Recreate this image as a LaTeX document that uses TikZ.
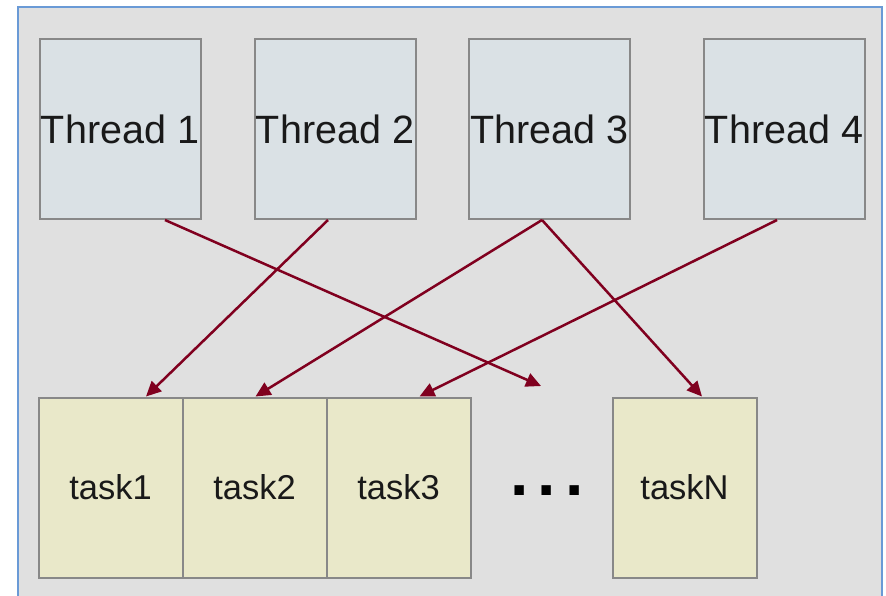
\documentclass[tikz,border=0pt]{standalone}
\usepackage{fontspec}
\setmainfont{Liberation Sans}
\usetikzlibrary{arrows.meta}
\definecolor{bgc}{HTML}{E0E0E0}
\definecolor{framec}{HTML}{6A9AD6}
\definecolor{thrc}{HTML}{DAE1E5}
\definecolor{taskc}{HTML}{E9E8C9}
\definecolor{boxline}{HTML}{888888}
\definecolor{arrc}{HTML}{80001F}
\begin{document}
\begin{tikzpicture}[x=1pt,y=-1pt,
  thr/.style={draw=boxline,fill=thrc,line width=2pt,minimum width=161pt,minimum height=180pt,inner sep=0pt,font=\fontsize{39.5}{45}\selectfont,text=black!90},
  tsk/.style={draw=boxline,fill=taskc,line width=2pt,minimum width=144pt,minimum height=180pt,inner sep=0pt,font=\fontsize{34.5}{40}\selectfont,text=black!90},
  link/.style={draw=arrc,line width=2.5pt,-{Triangle[length=15pt,width=14pt]}}]
\useasboundingbox (0,0) rectangle (886,595);
\fill[white] (0,0) rectangle (886,595);
\path[fill=bgc,draw=framec,line width=1.5pt] (18,7) rectangle (882,605);
% threads
\node[thr] (t1) at (120,129) {Thread 1};
\node[thr] (t2) at (335,129) {Thread 2};
\node[thr] (t3) at (549.5,129) {Thread 3};
\node[thr] (t4) at (784,129) {Thread 4};
% tasks
\node[tsk] (k1) at (110.5,487.5) {task1};
\node[tsk] (k2) at (254.5,487.5) {task2};
\node[tsk] (k3) at (398.5,487.5) {task3};
\node[tsk] (kn) at (684.5,487.5) {taskN};
\node[anchor=base,font=\fontsize{66}{70}\selectfont\bfseries,inner sep=0pt] (dots) at (547,495.5) {.\hspace{9pt}.\hspace{9pt}.};
\coordinate (free) at (541,386);
% links
\draw[link] ([xshift=45pt]t1.south) -- (free);
\draw[link] ([xshift=-7pt]t2.south) -- ([xshift=35.5pt]k1.north);
\draw[link] ([xshift=-7.5pt]t3.south) -- ([xshift=1pt]k2.north);
\draw[link] ([xshift=-7.5pt]t3.south) -- ([xshift=17.5pt]kn.north);
\draw[link] ([xshift=-7pt]t4.south) -- ([xshift=21pt]k3.north);
\end{tikzpicture}
\end{document}
